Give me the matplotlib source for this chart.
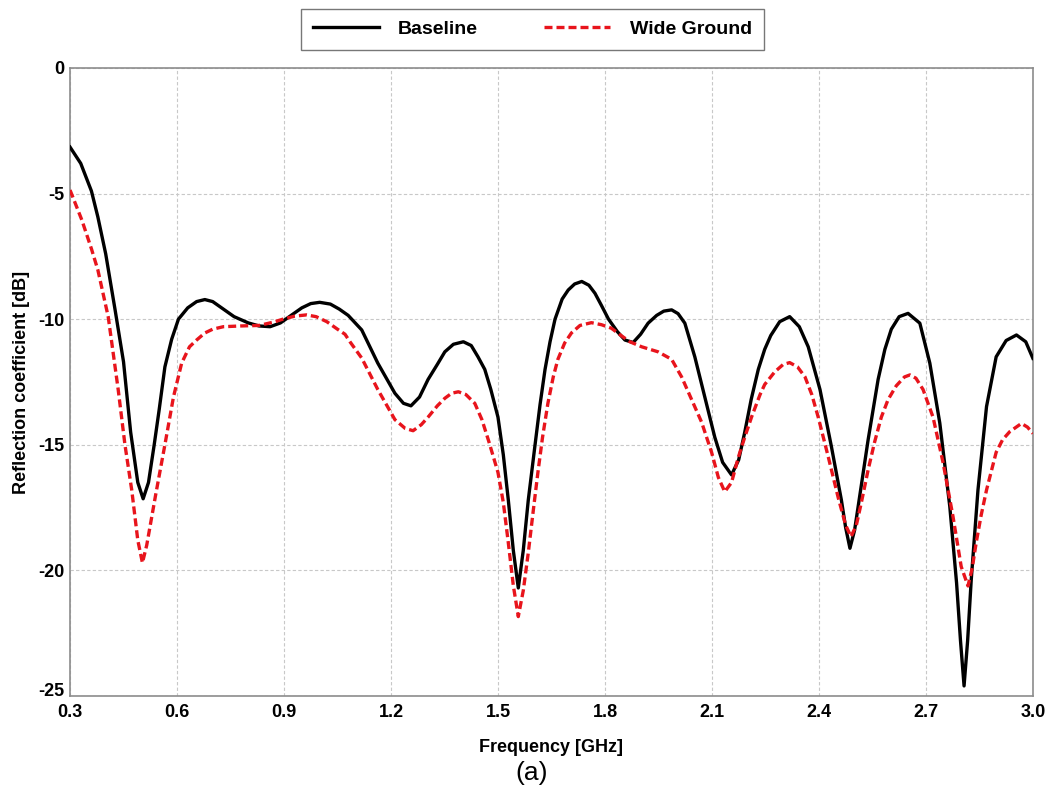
import numpy as np
import matplotlib
matplotlib.use("Agg")
import matplotlib.pyplot as plt
from matplotlib.transforms import ScaledTranslation

# Frequency [GHz] / reflection coefficient [dB]
base_f = [0.300, 0.330, 0.360, 0.378, 0.400, 0.426, 0.450, 0.470, 0.490, 0.505,
          0.520, 0.536, 0.550, 0.566, 0.585, 0.604, 0.630, 0.655, 0.678, 0.700,
          0.730, 0.760, 0.800, 0.830, 0.861, 0.890, 0.920, 0.950, 0.975, 1.000,
          1.030, 1.055, 1.080, 1.118, 1.163, 1.211, 1.235, 1.256, 1.280, 1.304,
          1.330, 1.351, 1.375, 1.403, 1.425, 1.444, 1.463, 1.480, 1.500, 1.515,
          1.529, 1.543, 1.557, 1.571, 1.585, 1.604, 1.618, 1.632, 1.646, 1.660,
          1.680, 1.697, 1.715, 1.735, 1.755, 1.772, 1.790, 1.810, 1.835, 1.856,
          1.879, 1.900, 1.921, 1.945, 1.965, 1.987, 2.005, 2.024, 2.052, 2.080,
          2.108, 2.130, 2.155, 2.175, 2.192, 2.210, 2.230, 2.248, 2.265, 2.290,
          2.318, 2.345, 2.370, 2.403, 2.435, 2.463, 2.475, 2.487, 2.500, 2.510,
          2.538, 2.566, 2.585, 2.603, 2.625, 2.650, 2.683, 2.711, 2.739, 2.767,
          2.786, 2.797, 2.807, 2.817, 2.827, 2.846, 2.870, 2.897, 2.925, 2.954,
          2.980, 3.000]
base_db = [-3.15, -3.8, -4.9, -5.93, -7.4, -9.6, -11.7, -14.5, -16.5, -17.15,
           -16.5, -15.0, -13.6, -11.9, -10.8, -10.0, -9.55, -9.3, -9.22, -9.3,
           -9.6, -9.9, -10.15, -10.27, -10.3, -10.15, -9.85, -9.55, -9.38, -9.33,
           -9.4, -9.6, -9.85, -10.43, -11.75, -12.95, -13.35, -13.45, -13.1, -12.4,
           -11.8, -11.3, -11.0, -10.9, -11.05, -11.5, -12.0, -12.8, -13.9, -15.4,
           -17.2, -19.2, -20.7, -19.2, -17.2, -15.0, -13.4, -12.0, -10.9, -10.0,
           -9.2, -8.84, -8.6, -8.5, -8.65, -8.97, -9.45, -10.0, -10.5, -10.83,
           -10.93, -10.6, -10.16, -9.85, -9.68, -9.63, -9.78, -10.16, -11.5, -13.1,
           -14.7, -15.7, -16.2, -15.6, -14.5, -13.2, -12.0, -11.2, -10.65, -10.1,
           -9.9, -10.3, -11.1, -12.8, -15.07, -17.2, -18.3, -19.12, -18.4, -17.46,
           -14.8, -12.4, -11.2, -10.4, -9.9, -9.77, -10.16, -11.75, -14.14, -17.46,
           -20.5, -22.8, -24.6, -22.8, -20.4, -16.8, -13.48, -11.5, -10.85, -10.63,
           -10.9, -11.56]

wide_f = [0.300, 0.333, 0.360, 0.378, 0.407, 0.435, 0.454, 0.473, 0.490, 0.503,
          0.515, 0.540, 0.566, 0.590, 0.613, 0.635, 0.655, 0.678, 0.700, 0.730,
          0.780, 0.830, 0.870, 0.897, 0.930, 0.963, 0.990, 1.020, 1.050, 1.071,
          1.085, 1.118, 1.163, 1.211, 1.240, 1.262, 1.285, 1.304, 1.330, 1.351,
          1.370, 1.389, 1.410, 1.435, 1.455, 1.475, 1.500, 1.515, 1.529, 1.543,
          1.557, 1.571, 1.585, 1.600, 1.612, 1.625, 1.640, 1.655, 1.668, 1.687,
          1.706, 1.730, 1.762, 1.790, 1.818, 1.845, 1.870, 1.903, 1.949, 1.987,
          2.015, 2.043, 2.071, 2.099, 2.118, 2.136, 2.155, 2.174, 2.192, 2.211,
          2.235, 2.248, 2.276, 2.300, 2.318, 2.340, 2.361, 2.380, 2.398, 2.426,
          2.454, 2.475, 2.490, 2.505, 2.519, 2.538, 2.556, 2.575, 2.594, 2.617,
          2.640, 2.655, 2.672, 2.692, 2.720, 2.748, 2.776, 2.799, 2.818, 2.830,
          2.841, 2.855, 2.870, 2.897, 2.915, 2.935, 2.968, 2.985, 3.000]
wide_db = [-4.86, -6.05, -7.2, -8.04, -9.9, -12.8, -15.0, -16.8, -18.8, -19.7,
           -19.0, -17.0, -15.0, -13.1, -11.75, -11.1, -10.83, -10.55, -10.4, -10.3,
           -10.27, -10.25, -10.12, -10.0, -9.88, -9.83, -9.9, -10.1, -10.4, -10.6,
           -10.9, -11.55, -12.8, -14.0, -14.35, -14.44, -14.2, -13.9, -13.45, -13.15,
           -12.95, -12.89, -13.0, -13.35, -14.0, -14.9, -16.1, -17.3, -18.9, -20.6,
           -21.84, -20.8, -19.3, -17.5, -16.1, -14.7, -13.35, -12.3, -11.6, -10.95,
           -10.55, -10.25, -10.14, -10.22, -10.36, -10.65, -10.9, -11.1, -11.3, -11.6,
           -12.3, -13.2, -14.1, -15.3, -16.3, -16.87, -16.5, -15.5, -14.7, -13.9,
           -13.0, -12.6, -12.1, -11.8, -11.73, -11.9, -12.3, -13.0, -13.9, -15.47,
           -17.1, -18.2, -18.66, -18.2, -17.3, -16.0, -14.9, -13.9, -13.2, -12.65,
           -12.3, -12.22, -12.35, -12.8, -13.9, -15.7, -17.86, -19.85, -20.62, -19.9,
           -18.9, -17.8, -16.8, -15.3, -14.8, -14.48, -14.15, -14.3, -14.55]

x_ticks = [0.3, 0.6, 0.9, 1.2, 1.5, 1.8, 2.1, 2.4, 2.7, 3.0]
y_ticks = [0, -5, -10, -15, -20, -25]

plt.rcParams['font.family'] = ['Liberation Sans', 'DejaVu Sans']

fig = plt.figure(figsize=(10.5, 7.9), dpi=100)
ax = fig.add_axes([0.0667, 0.119, 0.917, 0.795])

ax.plot(base_f, base_db, color='black', lw=2.4, label='Baseline', zorder=3,
        solid_joinstyle='round')
ax.plot(wide_f, wide_db, color='#e8141c', lw=2.4, linestyle=(0, (2.4, 1.2)),
        label='Wide Ground', zorder=3, dash_joinstyle='round')

ax.set_xlim(0.3, 3.0)
ax.set_ylim(-25, 0)
ax.set_xticks(x_ticks)
ax.set_yticks(y_ticks)
ax.set_xticklabels([f"{t:.1f}" for t in x_ticks], fontweight='bold', fontsize=13)
ax.set_yticklabels([str(t) for t in y_ticks], fontweight='bold', fontsize=13)
ax.tick_params(axis='x', length=0, pad=6)
ax.tick_params(axis='y', length=0, pad=4)
# the bottom y label sits a little above the axis corner, as in the reference
lab = ax.get_yticklabels()[-1]
lab.set_transform(lab.get_transform() + ScaledTranslation(0, 6 / 100, fig.dpi_scale_trans))

ax.grid(True, color='#c8c8c8', linestyle=(0, (3, 2)), linewidth=0.8)
for s in ax.spines.values():
    s.set_color('#8c8c8c')
    s.set_linewidth(1.2)

ax.set_xlabel("Frequency [GHz]", fontweight='bold', fontsize=13, labelpad=13)
ax.set_ylabel("Reflection coefficient [dB]", fontweight='bold', fontsize=13, labelpad=6)

leg = fig.legend(loc='center', bbox_to_anchor=(0.507, 0.963), ncol=2,
                 fancybox=False, edgecolor='#555555',
                 prop={'weight': 'bold', 'size': 14}, handlelength=3.4,
                 columnspacing=3.4, borderpad=0.6, handletextpad=1.0)
leg.get_frame().set_linewidth(1.0)

fig.text(0.506, 0.022, "(a)", ha='center', va='center', fontsize=19)

fig.savefig("out.png", dpi=100)
